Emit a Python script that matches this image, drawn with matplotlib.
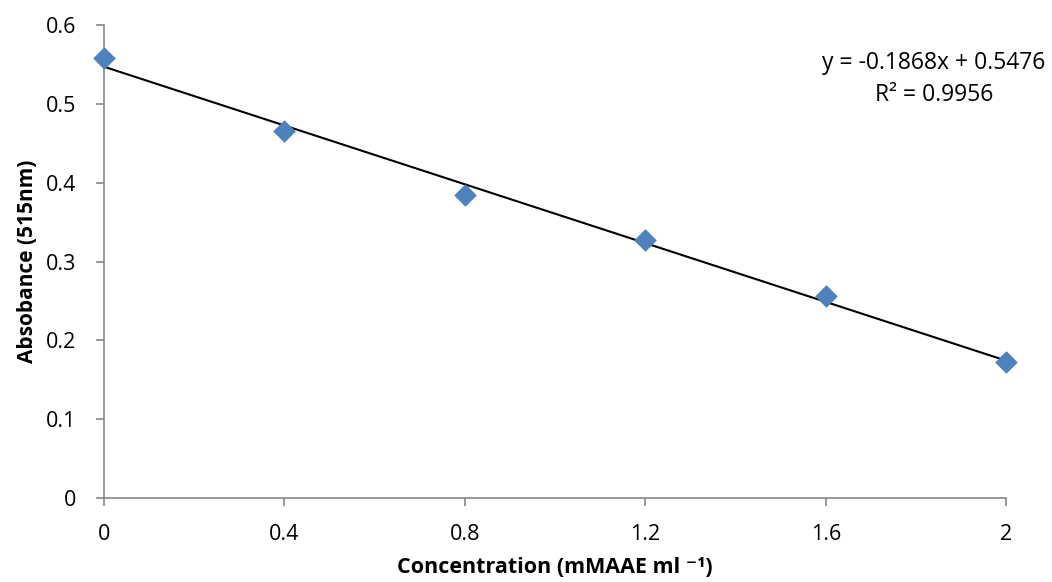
import numpy as np
import matplotlib.pyplot as plt

plt.rcParams['font.family'] = ['Open Sans', 'DejaVu Sans']

conc = [0, 0.4, 0.8, 1.2, 1.6, 2.0]
absorb = [0.558, 0.465, 0.385, 0.327, 0.256, 0.173]
x_ticks = [0, 0.4, 0.8, 1.2, 1.6, 2]
x_tick_labels = ["0", "0.4", "0.8", "1.2", "1.6", "2"]
y_ticks = [0, 0.1, 0.2, 0.3, 0.4, 0.5, 0.6]
y_tick_labels = ["0", "0.1", "0.2", "0.3", "0.4", "0.5", "0.6"]
eq_text = "y = -0.1868x + 0.5476\nR\u00b2 = 0.9956"

fig = plt.figure(figsize=(10.52, 5.82), dpi=100)
ax = fig.add_axes([0.0989, 0.1443, 0.8575, 0.8127])

# linear trendline from the data
slope, intercept = np.polyfit(conc, absorb, 1)
xl = np.array([conc[0], conc[-1]])
ax.plot(xl, slope * xl + intercept, color="black", lw=1.5, zorder=2)
ax.scatter(conc, absorb, marker="D", s=120, color="#4F81BD", edgecolor="#4A7EBB",
           linewidth=0.5, zorder=3, clip_on=False)

ax.set_xlim(0, 2)
ax.set_ylim(0, 0.6)
ax.set_xticks(x_ticks)
ax.set_xticklabels(x_tick_labels)
ax.set_yticks(y_ticks)
ax.set_yticklabels(y_tick_labels)

for s in ["top", "right"]:
    ax.spines[s].set_visible(False)
for s in ["left", "bottom"]:
    ax.spines[s].set_color("#868686")
    ax.spines[s].set_linewidth(1.2)
ax.tick_params(axis="both", direction="out", length=6, width=1.2, color="#868686",
               labelsize=15.5, labelcolor="black")
ax.tick_params(axis="x", pad=13)
ax.tick_params(axis="y", pad=14)

ax.set_xlabel("Concentration (mMAAE ml \u207b\u00b9)", fontsize=15.5, fontweight="bold", labelpad=8)
ax.set_ylabel("Absobance (515nm)", fontsize=15, fontweight="bold", labelpad=6)

fig.text(0.994, 0.865, eq_text, ha="right", va="center", fontsize=16.5,
         multialignment="center", linespacing=1.45)

fig.savefig("out.png", dpi=100)
